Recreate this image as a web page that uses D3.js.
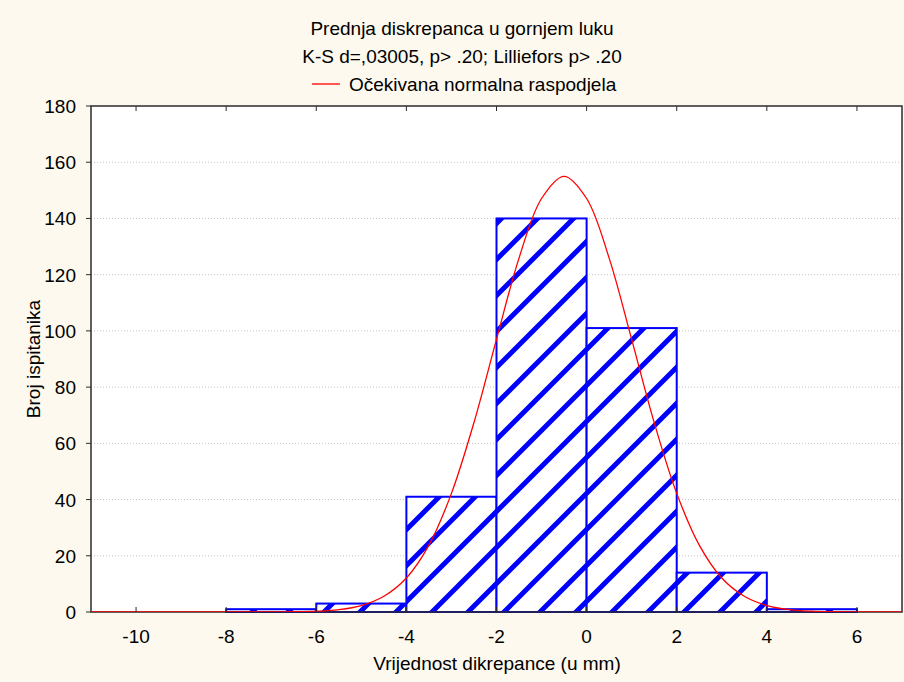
<!DOCTYPE html>
<html>
<head>
<meta charset="utf-8">
<script src="https://cdn.jsdelivr.net/npm/d3@7"></script>
<style>
  html, body { margin: 0; padding: 0; background: #fdf9ee; }
  svg { display: block; }
  text { font-family: "Liberation Sans", Arial, sans-serif; fill: #000; }
</style>
</head>
<body>
<svg id="chart" width="904" height="682"></svg>
<script>
// ---- data ----
const binStarts = [-10, -8, -6, -4, -2, 0, 2, 4];
const binWidth = 2;
const counts = [0, 1, 3, 41, 140, 101, 14, 1];
const curveX = [-11, -10.5, -10, -9.5, -9, -8.5, -8, -7.5, -7, -6.5, -6, -5.5, -5, -4.5, -4, -3.5, -3, -2.5, -2, -1.5, -1, -0.5, 0, 0.5, 1, 1.5, 2, 2.5, 3, 3.5, 4, 4.5, 5, 5.5, 6, 6.5, 7];
const curveY = [0, 0, 0, 0, 0, 0, 0, 0.01, 0.02, 0.09, 0.29, 0.85, 2.3, 5.6, 12.1, 23.8, 42.2, 67.4, 97.0, 125.9, 147.1, 155.0, 147.1, 125.9, 97.0, 67.4, 42.2, 23.8, 12.1, 5.6, 2.3, 0.85, 0.29, 0.09, 0.02, 0.01, 0];
const xTicks = [-10, -8, -6, -4, -2, 0, 2, 4, 6];
const yTicks = [0, 20, 40, 60, 80, 100, 120, 140, 160, 180];
const titleLines = ["Prednja diskrepanca u gornjem luku", "K-S d=,03005, p> .20; Lilliefors p> .20"];
const legendLabel = "Očekivana normalna raspodjela";
const xLabel = "Vrijednost dikrepance (u mm)";
const yLabel = "Broj ispitanika";

// ---- layout ----
const svg = d3.select("#chart");
const L = 91, R = 902, T = 106, B = 612;
const FS = 19;
const x = d3.scaleLinear().domain([-11, 7]).range([L, R]);
const y = d3.scaleLinear().domain([0, 180]).range([B, T]);

svg.append("rect").attr("width", 904).attr("height", 682).attr("fill", "#fdf9ee");
svg.append("rect").attr("x", L).attr("y", T).attr("width", R - L).attr("height", B - T).attr("fill", "#fff");

// hatch pattern
const P = 36;
const defs = svg.append("defs");
const pat = defs.append("pattern").attr("id", "hatch").attr("patternUnits", "userSpaceOnUse")
  .attr("width", P).attr("height", P);
pat.append("rect").attr("width", P).attr("height", P).attr("fill", "#fff");
pat.append("path").attr("d", `M-4,${P + 4} L${P + 4},-4 M${-P / 2 - 4},${P / 2 + 4} L${P / 2 + 4},${-P / 2 - 4} M${P / 2 - 4},${P * 1.5 + 4} L${P * 1.5 + 4},${P / 2 - 4}`)
  .attr("stroke", "#0000ff").attr("stroke-width", 5);
defs.append("clipPath").attr("id", "plotclip").append("rect")
  .attr("x", L).attr("y", T - 2).attr("width", R - L).attr("height", B - T + 2);

// gridlines
svg.append("g").selectAll("line").data(yTicks.filter(d => d > 0 && d < 180)).join("line")
  .attr("x1", L).attr("x2", R).attr("y1", d => y(d)).attr("y2", d => y(d))
  .attr("stroke", "#c4c4c4").attr("stroke-width", 1).attr("stroke-dasharray", "1,2");

// bars
const bars = binStarts.map((s, i) => ({ s, c: counts[i] })).filter(d => d.c > 0);
svg.append("g").selectAll("rect").data(bars).join("rect")
  .attr("x", d => x(d.s)).attr("width", d => x(d.s + binWidth) - x(d.s))
  .attr("y", d => y(d.c)).attr("height", d => y(0) - y(d.c))
  .attr("fill", "url(#hatch)").attr("stroke", "#0000ff").attr("stroke-width", 2);

// frame
svg.append("rect").attr("x", L).attr("y", T).attr("width", R - L).attr("height", B - T)
  .attr("fill", "none").attr("stroke", "#2b2b2b").attr("stroke-width", 1.5);

// normal curve
const line = d3.line().x((d, i) => x(curveX[i])).y(d => y(d)).curve(d3.curveCatmullRom);
svg.append("path").datum(curveY).attr("d", line).attr("fill", "none")
  .attr("stroke", "#ff0000").attr("stroke-width", 1.3).attr("clip-path", "url(#plotclip)");

// x axis ticks (inside, top and bottom) + labels
const xg = svg.append("g");
xg.selectAll("line.b").data(xTicks).join("line").attr("class", "b")
  .attr("x1", d => x(d)).attr("x2", d => x(d)).attr("y1", B).attr("y2", B - 5)
  .attr("stroke", "#2b2b2b").attr("stroke-width", 1);
xg.selectAll("line.t").data(xTicks).join("line").attr("class", "t")
  .attr("x1", d => x(d)).attr("x2", d => x(d)).attr("y1", T).attr("y2", T + 5)
  .attr("stroke", "#2b2b2b").attr("stroke-width", 1);
xg.selectAll("text").data(xTicks).join("text")
  .attr("x", d => x(d)).attr("y", 643).attr("text-anchor", "middle")
  .attr("font-size", FS).text(d => d);

// y axis ticks (outside) + labels
const yg = svg.append("g");
yg.selectAll("line").data(yTicks).join("line")
  .attr("x1", L - 5).attr("x2", L).attr("y1", d => y(d)).attr("y2", d => y(d))
  .attr("stroke", "#2b2b2b").attr("stroke-width", 1);
yg.selectAll("text").data(yTicks).join("text")
  .attr("x", 76).attr("y", d => y(d) + 7).attr("text-anchor", "end")
  .attr("font-size", FS).text(d => d);

// titles
svg.selectAll("text.title").data(titleLines).join("text").attr("class", "title")
  .attr("x", 462).attr("y", (d, i) => 35 + i * 28).attr("text-anchor", "middle")
  .attr("font-size", FS).text(d => d);

// legend
svg.append("line").attr("x1", 312).attr("x2", 340).attr("y1", 84).attr("y2", 84)
  .attr("stroke", "#ff0000").attr("stroke-width", 1.3);
svg.append("text").attr("x", 349).attr("y", 91).attr("font-size", FS).text(legendLabel);

// axis titles
svg.append("text").attr("x", 497).attr("y", 670).attr("text-anchor", "middle")
  .attr("font-size", FS).text(xLabel);
svg.append("text").attr("transform", "translate(40,359) rotate(-90)")
  .attr("text-anchor", "middle").attr("font-size", FS).text(yLabel);
</script>
</body>
</html>
